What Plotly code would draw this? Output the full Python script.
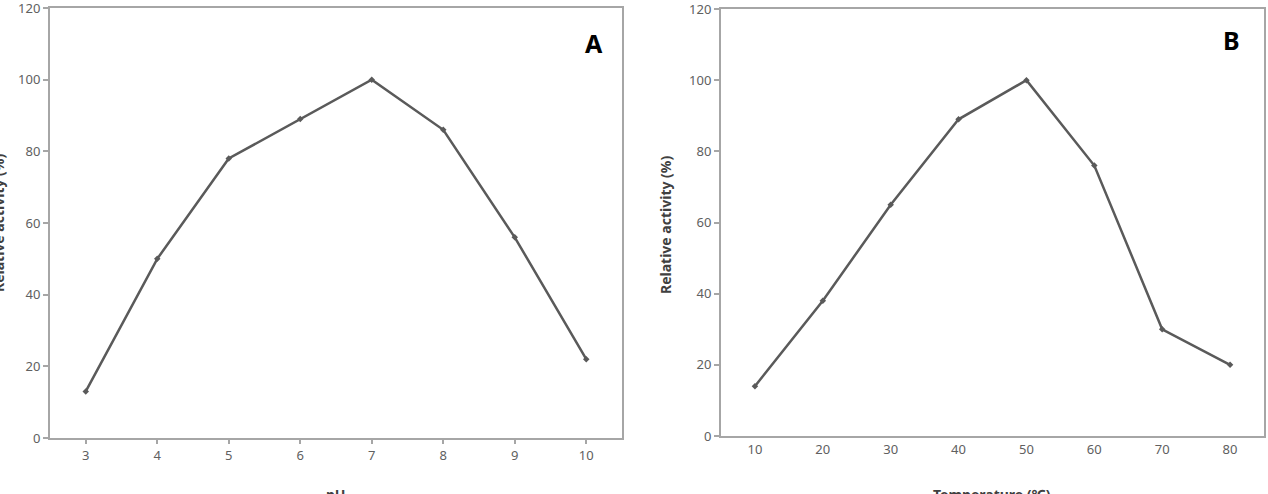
import plotly.graph_objects as go

W, H = 1268, 494

ph_values = [3, 4, 5, 6, 7, 8, 9, 10]
ph_activity = [13, 50, 78, 89, 100, 86, 56, 22]

temp_values = [10, 20, 30, 40, 50, 60, 70, 80]
temp_activity = [14, 38, 65, 89, 100, 76, 30, 20]

y_ticks = [0, 20, 40, 60, 80, 100, 120]

line_col = "#5a5a5a"
axis_col = "#a6a6a6"
tick_font = dict(family="Noto Sans, Open Sans, sans-serif", size=13, color="#606060")

fig = go.Figure()
fig.add_trace(go.Scatter(x=ph_values, y=ph_activity, mode="lines+markers",
                         line=dict(color=line_col, width=2.5),
                         marker=dict(symbol="diamond", size=5, color=line_col),
                         xaxis="x", yaxis="y", showlegend=False))
fig.add_trace(go.Scatter(x=temp_values, y=temp_activity, mode="lines+markers",
                         line=dict(color=line_col, width=2.5),
                         marker=dict(symbol="diamond", size=5, color=line_col),
                         xaxis="x2", yaxis="y2", showlegend=False))

def px_x(p):
    return p / W

def px_y(p):
    return 1 - p / H

common_x = dict(showline=True, linecolor=axis_col, linewidth=2, mirror=True,
                showgrid=False, zeroline=False, tickfont=tick_font, automargin=False,
                ticklabeloverflow="allow")
common_y = dict(showline=True, linecolor=axis_col, linewidth=2, mirror=True,
                showgrid=False, zeroline=False, tickfont=tick_font, automargin=False,
                ticklabeloverflow="allow",
                range=[0, 120], tickvals=y_ticks, ticks="outside", ticklen=5,
                tickcolor=axis_col, tickwidth=1.5)

fig.update_layout(
    width=W, height=H, margin=dict(l=0, r=0, t=0, b=0),
    paper_bgcolor="white", plot_bgcolor="white",
    xaxis=dict(common_x, domain=[px_x(50), px_x(622)], range=[2.5, 10.5],
               tickvals=ph_values, ticks="outside", ticklen=4, tickcolor=axis_col,
               tickwidth=1.5, anchor="y"),
    yaxis=dict(common_y, domain=[px_y(438), px_y(8)], anchor="x"),
    xaxis2=dict(common_x, domain=[px_x(721), px_x(1264)], range=[5, 85],
                tickvals=temp_values, ticks="", anchor="y2"),
    yaxis2=dict(common_y, domain=[px_y(436), px_y(9)], anchor="x2"),
)

title_font = dict(family="Noto Sans, Open Sans, sans-serif", size=14, color="#404040")
letter_font = dict(family="Noto Sans, Open Sans, sans-serif", size=25, color="black")

annotations = [
    dict(text="<b>A</b>", x=px_x(594), y=px_y(43), xref="paper", yref="paper",
         xanchor="center", yanchor="middle", showarrow=False, font=letter_font),
    dict(text="<b>B</b>", x=px_x(1231), y=px_y(40), xref="paper", yref="paper",
         xanchor="center", yanchor="middle", showarrow=False, font=letter_font),
    dict(text="<b>Relative activity (%)</b>", textangle=-90, x=px_x(-2), y=px_y(223),
         xref="paper", yref="paper", xanchor="center", yanchor="middle",
         showarrow=False, font=title_font),
    dict(text="<b>Relative activity (%)</b>", textangle=-90, x=px_x(665), y=px_y(225),
         xref="paper", yref="paper", xanchor="center", yanchor="middle",
         showarrow=False, font=title_font),
    dict(text="<b>pH</b>", x=px_x(336), y=px_y(494), xref="paper", yref="paper",
         xanchor="center", yanchor="middle", showarrow=False, font=title_font),
    dict(text="<b>Temperature (℃)</b>", x=px_x(992), y=px_y(494), xref="paper", yref="paper",
         xanchor="center", yanchor="middle", showarrow=False, font=title_font),
]
fig.update_layout(annotations=annotations)

fig.write_html("out.html")
